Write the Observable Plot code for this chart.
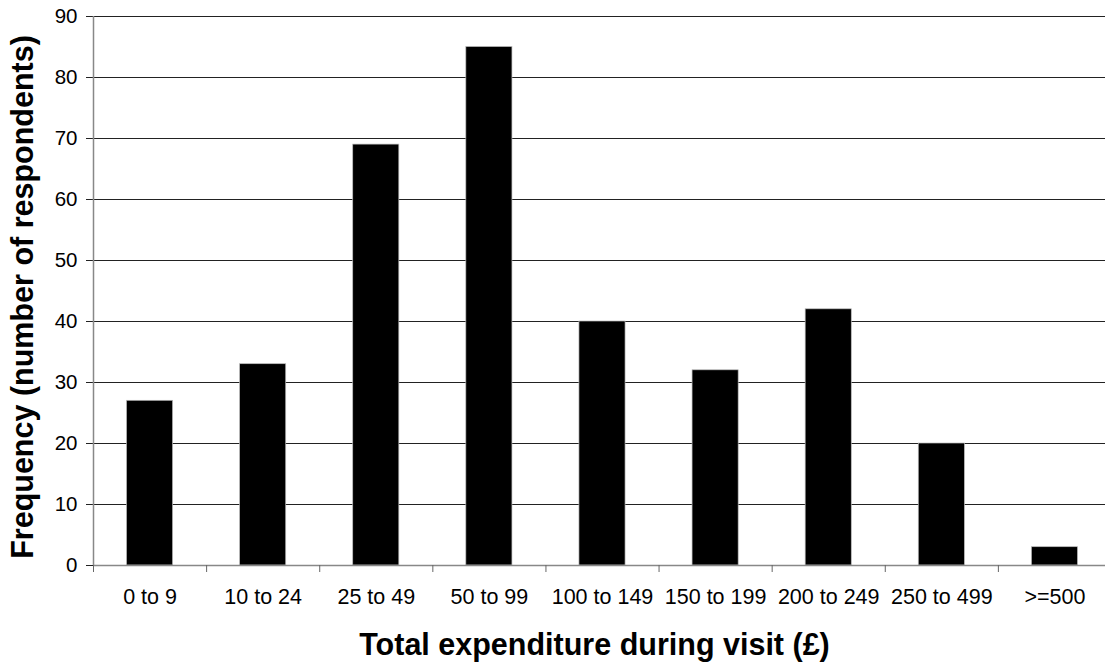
<!DOCTYPE html>
<html><head><meta charset="utf-8">
<script src="https://cdn.jsdelivr.net/npm/d3@7"></script>
<script src="https://cdn.jsdelivr.net/npm/@observablehq/plot@0.6"></script>
<style>
body{margin:0;background:#fff;}
#chart svg{font-family:"Liberation Sans",Arial,sans-serif;}
</style>
</head><body><div id="chart"></div>
<script>
const categories = ["0 to 9","10 to 24","25 to 49","50 to 99","100 to 149","150 to 199","200 to 249","250 to 499",">=500"];
const frequency = [27,33,69,85,40,32,42,20,3];
const yTicks = [0,10,20,30,40,50,60,70,80,90];

const data = categories.map((c,i)=>({cat:c, i, v:frequency[i]}));
const bounds = d3.range(categories.length+1);
const centers = categories.map((c,i)=>i+0.5);

const plot = Plot.plot({
  width:1105, height:664,
  marginLeft:93, marginRight:-6, marginTop:16, marginBottom:99,
  style:{fontSize:"20px", fontFamily:"Liberation Sans, Arial, sans-serif", color:"#000", background:"#fff", overflow:"hidden"},
  x:{domain:[0,categories.length], axis:null},
  y:{domain:[0,90], axis:null},
  marks:[
    Plot.gridY(yTicks,{stroke:"#222", strokeOpacity:1, strokeWidth:1}),
    Plot.axisY(yTicks,{tickSize:7, stroke:"#222", tickPadding:9, fontSize:20.5, label:null, tickFormat:d=>d}),
    Plot.rectY(data,{x1:"i", x2:d=>d.i+1, y:"v", fill:"#000", stroke:"#bbb", strokeWidth:0.7, insetLeft:33.5, insetRight:33.5}),
    Plot.ruleX([0],{stroke:"#888", strokeWidth:1.5}),
    Plot.ruleY([0],{stroke:"#888", strokeWidth:1.5}),
    Plot.axisX(bounds,{tickSize:7, stroke:"#666", tickFormat:()=>"", label:null}),
    Plot.axisX(centers,{tickSize:0, tickPadding:23, tickFormat:d=>categories[Math.floor(d)], fontSize:21.5, label:null}),
    Plot.text(["Total expenditure during visit (£)"],{x:()=>categories.length/2, frameAnchor:"bottom", lineAnchor:"middle", dx:-8, dy:80, text:d=>d, fontSize:30.5, fontWeight:"bold"}),
    Plot.text(["Frequency (number of respondents)"],{frameAnchor:"left", textAnchor:"middle", lineAnchor:"middle", dx:-70, dy:6, rotate:-90, text:d=>d, fontSize:30.5, fontWeight:"bold"})
  ]
});
document.getElementById("chart").appendChild(plot);
</script>
</body></html>
